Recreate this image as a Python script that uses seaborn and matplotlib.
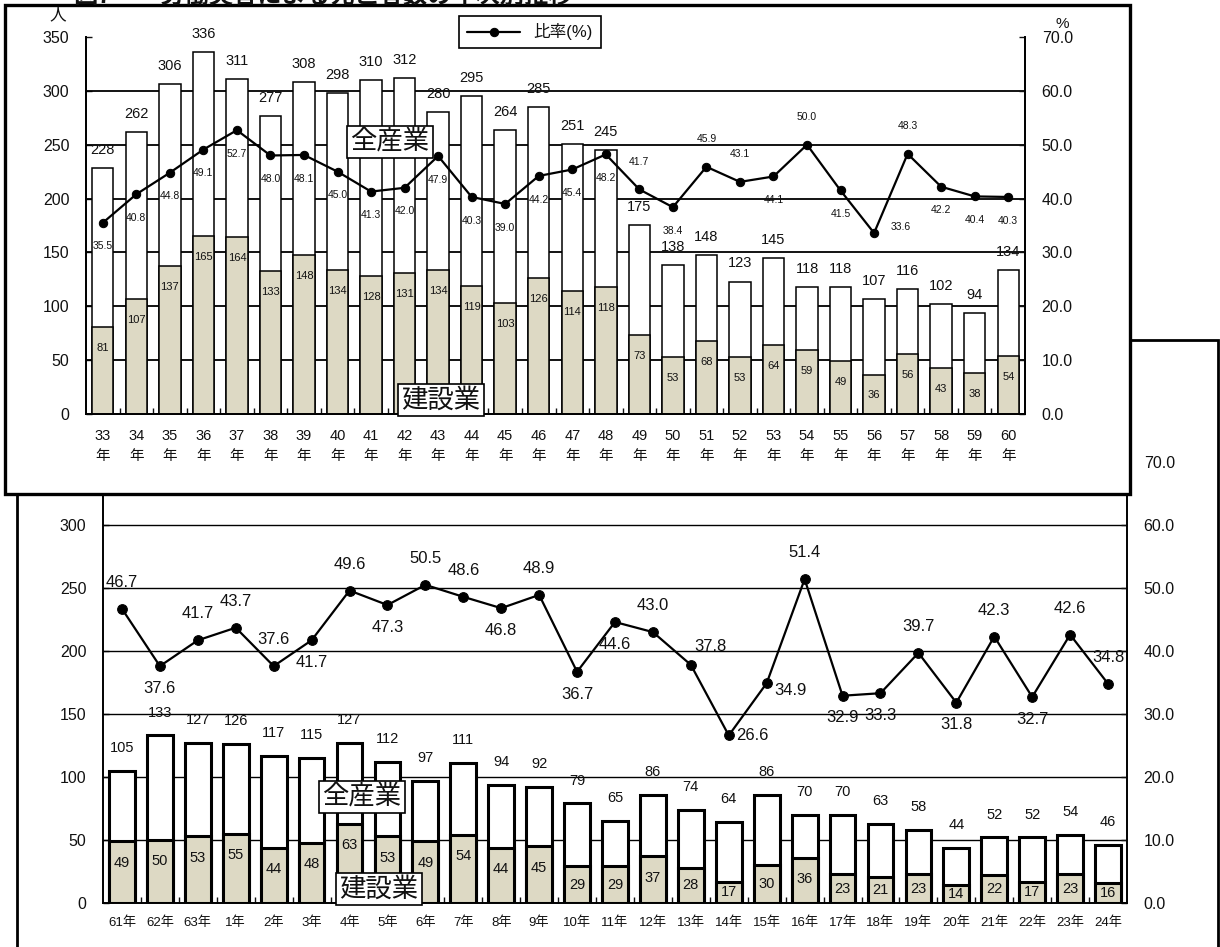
import matplotlib
matplotlib.use("Agg")
from matplotlib import pyplot as plt
from matplotlib.patches import Rectangle
import numpy as np
import seaborn as sns

# ---- 昭和33年〜60年 ----
years_top = ['33', '34', '35', '36', '37', '38', '39', '40', '41', '42', '43', '44', '45', '46',
             '47', '48', '49', '50', '51', '52', '53', '54', '55', '56', '57', '58', '59', '60']
total_top = [228, 262, 306, 336, 311, 277, 308, 298, 310, 312, 280, 295, 264, 285,
             251, 245, 175, 138, 148, 123, 145, 118, 118, 107, 116, 102, 94, 134]
const_top = [81, 107, 137, 165, 164, 133, 148, 134, 128, 131, 134, 119, 103, 126,
             114, 118, 73, 53, 68, 53, 64, 59, 49, 36, 56, 43, 38, 54]
rate_top = [35.5, 40.8, 44.8, 49.1, 52.7, 48.0, 48.1, 45.0, 41.3, 42.0, 47.9, 40.3, 39.0, 44.2,
            45.4, 48.2, 41.7, 38.4, 45.9, 43.1, 44.1, 50.0, 41.5, 33.6, 48.3, 42.2, 40.4, 40.3]

# ---- 昭和61年〜平成24年 ----
years_bot = ['61年', '62年', '63年', '1年', '2年', '3年', '4年', '5年', '6年', '7年', '8年', '9年', '10年', '11年',
             '12年', '13年', '14年', '15年', '16年', '17年', '18年', '19年', '20年', '21年', '22年', '23年', '24年']
total_bot = [105, 133, 127, 126, 117, 115, 127, 112, 97, 111, 94, 92, 79, 65,
             86, 74, 64, 86, 70, 70, 63, 58, 44, 52, 52, 54, 46]
const_bot = [49, 50, 53, 55, 44, 48, 63, 53, 49, 54, 44, 45, 29, 29,
             37, 28, 17, 30, 36, 23, 21, 23, 14, 22, 17, 23, 16]
rate_bot = [46.7, 37.6, 41.7, 43.7, 37.6, 41.7, 49.6, 47.3, 50.5, 48.6, 46.8, 48.9, 36.7, 44.6,
            43.0, 37.8, 26.6, 34.9, 51.4, 32.9, 33.3, 39.7, 31.8, 42.3, 32.7, 42.6, 34.8]

# label placement of the ratio values (a: above, b: below, r: right ...)
pos_top = ['b'] * 16 + ['a', 'b', 'a', 'a', 'b', 'a', 'b', 'r', 'a', 'b', 'b', 'b']
pos_bot = ['a', 'b', 'a', 'a', 'a', 'b', 'a', 'b', 'a', 'a', 'b', 'a', 'b', 'b',
           'a', 'ar', 'r', 'rb', 'a', 'b', 'b', 'a', 'b', 'a', 'b', 'a', 'a']

BEIGE = '#DDD9C4'
INK = '#111111'

sns.set_theme(style='white')
plt.rcParams['font.family'] = ['Liberation Sans', 'Noto Sans CJK JP']
plt.rcParams['text.color'] = INK
plt.rcParams['xtick.color'] = INK
plt.rcParams['ytick.color'] = INK

W, H = 1220, 947
fig = plt.figure(figsize=(W / 100, H / 100), dpi=100)


def box(x0, y0, x1, y1):
    # pixel coords from the top-left corner -> figure fraction
    return [x0 / W, 1 - y1 / H, (x1 - x0) / W, (y1 - y0) / H]


def draw_chart(ax, ax2, labels, xlabels, total, const, rate, pos, offs, st):
    n = len(labels)
    for yv in range(50, 301, 50):
        ax.axhline(yv, color='black', linewidth=st['grid'], zorder=1)
    sns.barplot(x=labels, y=total, ax=ax, color='white', edgecolor='black',
                linewidth=st['bar_lw'], width=st['width'], saturation=1, zorder=2)
    sns.barplot(x=labels, y=const, ax=ax, color=BEIGE, edgecolor='black',
                linewidth=st['bar_lw'], width=st['width'], saturation=1, zorder=3)
    sns.lineplot(x=np.arange(n), y=rate, ax=ax2, color='black', marker='o',
                 markersize=st['ms'], markeredgecolor='black', linewidth=st['lw'],
                 label=st.get('legend_label'), legend=st.get('legend_label') is not None)

    for i, v in enumerate(total):
        ax.annotate(str(v), (i, v), xytext=(0, st['tot_off']), textcoords='offset points',
                    ha='center', va='center', fontsize=st['tot_fs'], zorder=6)
    for i, v in enumerate(const):
        ax.text(i, max(v - st['con_off'], v / 2), str(v), ha='center', va='center',
                fontsize=st['con_fs'], zorder=6)
    for i, v in enumerate(rate):
        dx, dy = offs[pos[i]]
        ax2.annotate(f'{v:.1f}', (i, v), xytext=(dx, dy), textcoords='offset points',
                     ha='center', va='center', fontsize=st['rate_fs'], zorder=6)

    ax.set_ylim(0, 350)
    ax2.set_ylim(0, 70)
    ax.set_yticks(range(0, 351, 50))
    ax2.set_yticks(range(0, 71, 10))
    ax2.set_yticklabels([f'{t:.1f}' for t in range(0, 71, 10)])
    ax.set_xticks(range(n))
    ax.set_xticklabels(xlabels, linespacing=st.get('xls', 1.2))
    ax.set_xticks(np.arange(n - 1) + 0.5, minor=True)
    ax.tick_params(axis='x', which='major', length=0, pad=st['xpad'], labelsize=st['x_fs'])
    ax.tick_params(axis='x', which='minor', bottom=True, direction='in', length=4, width=1)
    ax.tick_params(axis='y', left=True, direction='in', length=4, width=1,
                   pad=st['ypad'], labelsize=st['y_fs'])
    ax2.tick_params(axis='y', right=True, direction='in', length=4, width=1,
                    pad=st['ypad'], labelsize=st['y_fs'])
    ax.set_xlabel('')
    ax.set_ylabel('')
    ax2.set_xlabel('')
    ax2.set_ylabel('')
    for a in (ax, ax2):
        a.spines['top'].set_visible(False)
        for side in ('left', 'right', 'bottom'):
            a.spines[side].set_color('black')
            a.spines[side].set_linewidth(st['spine'])
    ax.set_xlim(-0.5, n - 0.5)


# outer frame of the lower chart (mostly hidden behind the upper one)
fig.add_artist(Rectangle((17 / W, 1 - 960 / H), (1218 - 17) / W, (960 - 340) / H,
                         transform=fig.transFigure, fill=False, ec='black', lw=2, zorder=0.5))

# ---- lower chart ----
ax_b = fig.add_axes(box(103, 462, 1127, 903))
ax_b.set_zorder(1)
ax_b2 = ax_b.twinx()
ax_b2.set_zorder(1.1)
ax_b2.patch.set_visible(False)
draw_chart(ax_b, ax_b2, years_bot, years_bot, total_bot, const_bot, rate_bot, pos_bot,
           {'a': (0, 19), 'b': (0, -16), 'r': (17, 0), 'rb': (17, -5), 'ar': (14, 13)},
           {'grid': 1.0, 'bar_lw': 2.2, 'width': 0.68, 'ms': 7, 'lw': 1.6,
            'tot_off': 16.5, 'tot_fs': 10.5, 'con_off': 17, 'con_fs': 10.5, 'rate_fs': 12,
            'xpad': 10, 'x_fs': 9.5, 'ypad': 12, 'y_fs': 11.5, 'spine': 1.2})
ax_b2.text(362 / W, 1 - 797 / H, '全産業', transform=fig.transFigure, fontsize=19,
           ha='center', va='center', zorder=10,
           bbox=dict(boxstyle='square,pad=0.12', fc='white', ec='black', lw=1.2))
ax_b2.text(379 / W, 1 - 889 / H, '建設業', transform=fig.transFigure, fontsize=19,
           ha='center', va='center', zorder=10,
           bbox=dict(boxstyle='square,pad=0.12', fc='white', ec='black', lw=1.2))

# white framed panel of the upper chart
fig.add_artist(Rectangle((5 / W, 1 - 494 / H), 1125 / W, 489 / H, transform=fig.transFigure,
                         fc='white', ec='black', lw=2.4, zorder=2))

# ---- upper chart ----
ax_t = fig.add_axes(box(86, 37, 1025, 414))
ax_t.set_zorder(3)
ax_t.patch.set_visible(False)
ax_t2 = ax_t.twinx()
ax_t2.set_zorder(3.1)
ax_t2.patch.set_visible(False)
draw_chart(ax_t, ax_t2, years_top, [f'{y}\n年' for y in years_top], total_top, const_top,
           rate_top, pos_top,
           {'a': (0, 20), 'b': (0, -17), 'r': (19, 4)},
           {'grid': 1.3, 'bar_lw': 1.1, 'width': 0.64, 'ms': 6, 'lw': 1.6,
            'tot_off': 13, 'tot_fs': 10.5, 'con_off': 19.5, 'con_fs': 8, 'rate_fs': 7.5,
            'xpad': 11, 'x_fs': 10.5, 'xls': 1.55, 'ypad': 12, 'y_fs': 11.5, 'spine': 1.3,
            'legend_label': '比率(%)'})
ax_t2.text(390 / W, 1 - 142 / H, '全産業', transform=fig.transFigure, fontsize=19,
           ha='center', va='center', zorder=10,
           bbox=dict(boxstyle='square,pad=0.12', fc='white', ec='black', lw=1.2))
ax_t2.text(441 / W, 1 - 400 / H, '建設業', transform=fig.transFigure, fontsize=19,
           ha='center', va='center', zorder=10,
           bbox=dict(boxstyle='square,pad=0.12', fc='white', ec='black', lw=1.2))
leg = ax_t2.legend(loc='center', bbox_to_anchor=(530 / W, 1 - 32 / H),
                   bbox_transform=fig.transFigure, frameon=True, fancybox=False,
                   edgecolor='black', framealpha=1, fontsize=12, handlelength=3.2,
                   borderpad=0.45)
leg.get_frame().set_linewidth(1.2)

fig.text(58 / W, 1 - 15 / H, '人', fontsize=12, ha='center', va='center', zorder=5)
fig.text(1062 / W, 1 - 24 / H, '%', fontsize=11, ha='center', va='center', zorder=5)
fig.text(74 / W, 1 - 3 / H, '図7　　労働災害による死亡者数の年次別推移', fontsize=17.5,
         fontweight='bold', ha='left', va='baseline', zorder=5)

fig.savefig('out.png', dpi=100)
